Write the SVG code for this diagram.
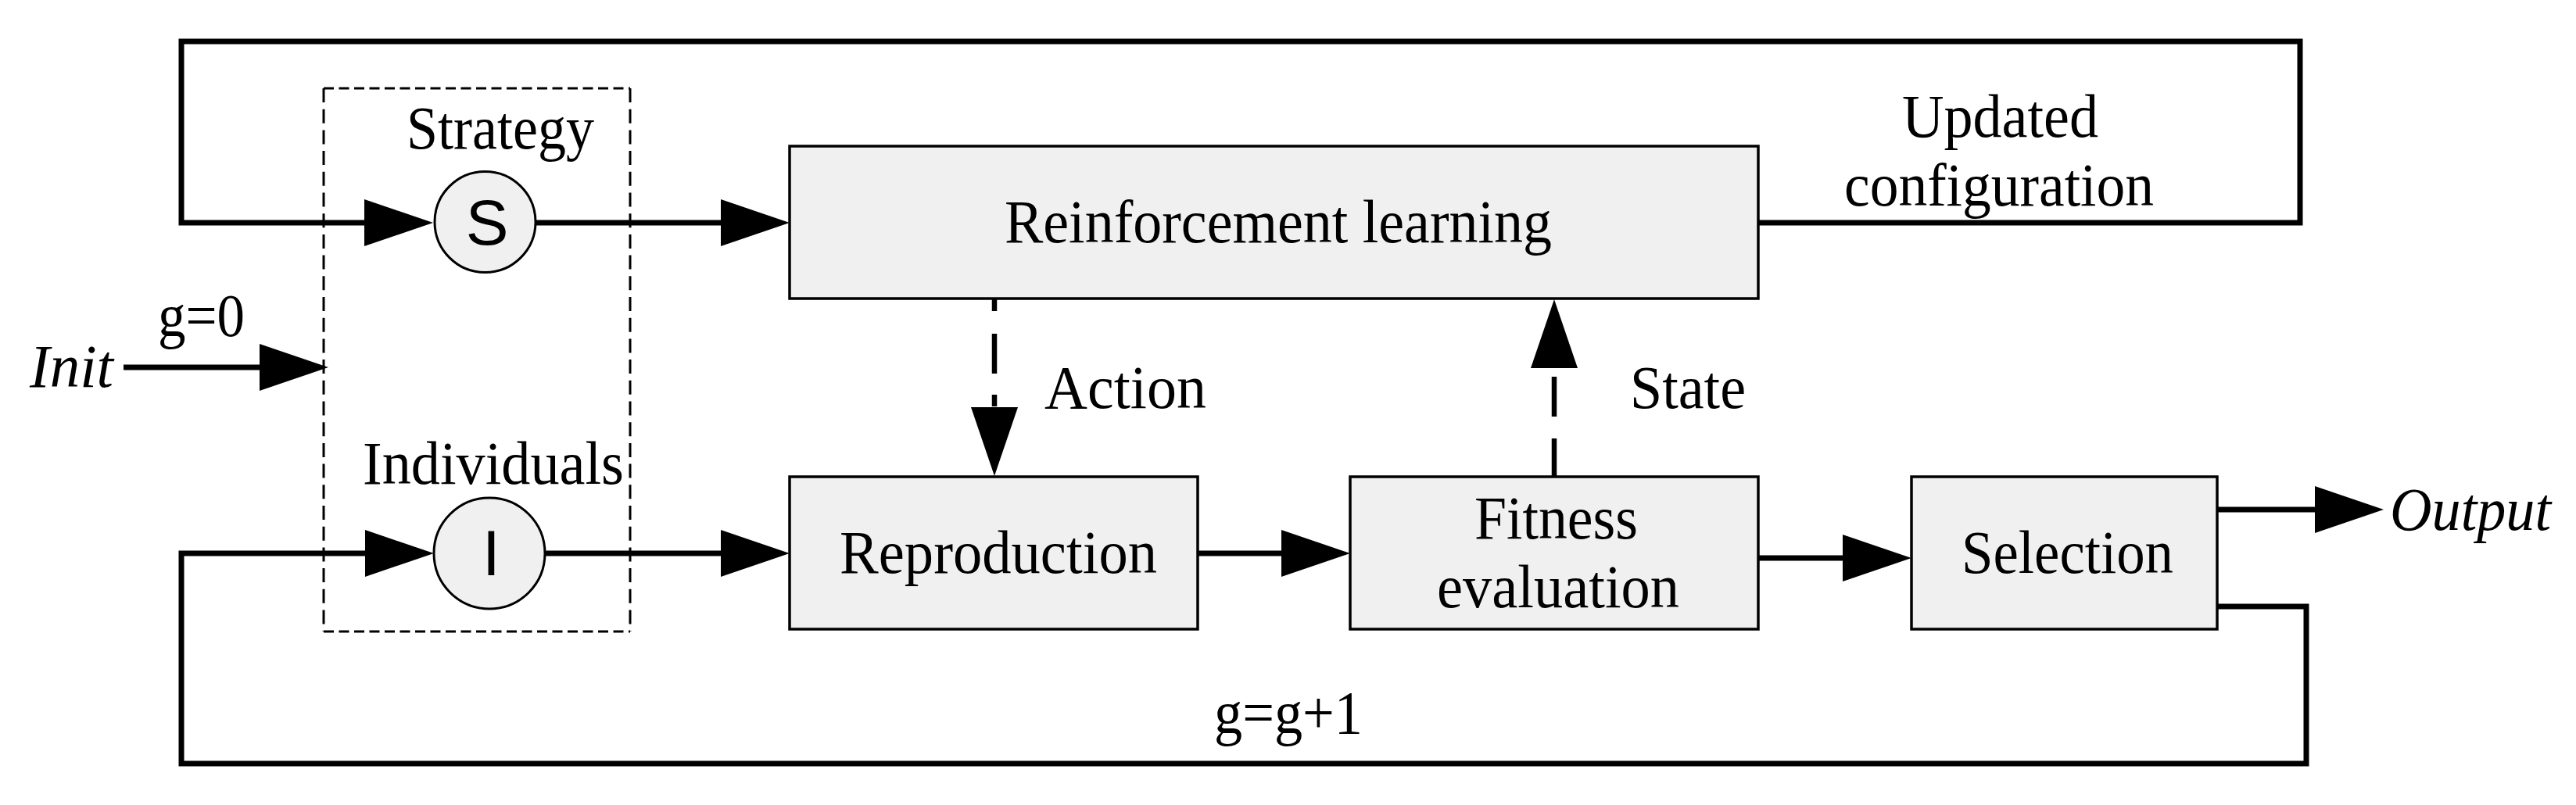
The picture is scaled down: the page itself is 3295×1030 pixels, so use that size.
<svg xmlns="http://www.w3.org/2000/svg" width="3295" height="1030" viewBox="0 0 3295 1030">
<style>
  .bg { fill: #ffffff; }
  .box { fill: #f0f0f0; stroke: #000; stroke-width: 3.5; }
  .node { fill: #f0f0f0; stroke: #000; stroke-width: 3; }
  .frame { fill: none; stroke: #000; stroke-width: 3; }
  .wire { fill: none; stroke: #000; stroke-width: 7; stroke-linejoin: miter; }
  .dwire { fill: none; stroke: #000; stroke-width: 6.5; }
  .t { font-family: "Liberation Serif", "Times New Roman", serif; font-size: 78px; fill: #000; }
  .it { font-style: italic; }
  .sym { font-family: "Liberation Sans", Arial, sans-serif; font-size: 82px; fill: #000; text-anchor: middle; }
</style>
<defs>
  <marker id="arrow" viewBox="0 -30 88 60" markerWidth="88" markerHeight="60" refX="2" refY="0" orient="auto" markerUnits="userSpaceOnUse">
    <path d="M0,-30 L88,0 L0,30 Z" fill="#000"/>
  </marker>
</defs>
<rect class="bg" x="0" y="0" width="3295" height="1030"/>

<g id="connectors">
  <path class="wire" d="M158 470 H334" marker-end="url(#arrow)"/>
  <path class="wire" d="M2249 285 H2942 V53 H232 V285 H468" marker-end="url(#arrow)"/>
  <path class="wire" d="M685 285 H924" marker-end="url(#arrow)"/>
  <path class="wire" d="M697 708 H924" marker-end="url(#arrow)"/>
  <path class="wire" d="M2836 776 H2950 V977 H232 V708 H469" marker-end="url(#arrow)"/>
  <path class="wire" d="M1532 708 H1641" marker-end="url(#arrow)"/>
  <path class="wire" d="M2249 714 H2359" marker-end="url(#arrow)"/>
  <path class="wire" d="M2836 652 H2963" marker-end="url(#arrow)"/>
  <path class="dwire" d="M1272 383 V523" stroke-dasharray="15 29 51 27 15 10" marker-end="url(#arrow)"/>
  <path class="dwire" d="M1988 610 V469" stroke-dasharray="49 28 51 13" marker-end="url(#arrow)"/>
</g>

<g id="labels">
  <text class="t it" x="38" y="495" textLength="107" lengthAdjust="spacingAndGlyphs">Init</text>
  <text class="t" x="202" y="430" textLength="111" lengthAdjust="spacingAndGlyphs">g=0</text>
  <text class="t" x="2433" y="175" textLength="251" lengthAdjust="spacingAndGlyphs">Updated</text>
  <text class="t" x="2359" y="263" textLength="396" lengthAdjust="spacingAndGlyphs">configuration</text>
  <text class="t" x="1336" y="522" textLength="207" lengthAdjust="spacingAndGlyphs">Action</text>
  <text class="t" x="2085" y="522" textLength="148" lengthAdjust="spacingAndGlyphs">State</text>
  <text class="t it" x="3057" y="678" textLength="206" lengthAdjust="spacingAndGlyphs">Output</text>
  <text class="t" x="1553" y="938" textLength="190" lengthAdjust="spacingAndGlyphs">g=g+1</text>
</g>

<g id="init-group">
  <path class="frame" d="M414 113 H806" stroke-dasharray="13 6.5"/>
  <path class="frame" d="M414 808 H806" stroke-dasharray="13 6.5"/>
  <path class="frame" d="M414 113 V808" stroke-dasharray="18 8.7"/>
  <path class="frame" d="M806 113 V808" stroke-dasharray="18 8.7"/>
  <text class="t" x="520" y="190" textLength="240" lengthAdjust="spacingAndGlyphs">Strategy</text>
  <text class="t" x="464" y="619" textLength="334" lengthAdjust="spacingAndGlyphs">Individuals</text>
</g>

<g id="node-strategy">
  <circle class="node" cx="620.5" cy="284" r="64.5"/>
  <text class="sym" x="623" y="313">S</text>
</g>

<g id="node-individuals">
  <circle class="node" cx="626" cy="708" r="71"/>
  <text class="sym" x="628.5" y="736">I</text>
</g>

<g id="node-rl">
  <rect class="box" x="1010" y="187" width="1239" height="195"/>
  <text class="t" x="1285" y="310" textLength="700" lengthAdjust="spacingAndGlyphs">Reinforcement learning</text>
</g>

<g id="node-reproduction">
  <rect class="box" x="1010" y="610" width="522" height="195"/>
  <text class="t" x="1074" y="733" textLength="406" lengthAdjust="spacingAndGlyphs">Reproduction</text>
</g>

<g id="node-fitness">
  <rect class="box" x="1727" y="610" width="522" height="195"/>
  <text class="t" x="1886" y="689" textLength="209" lengthAdjust="spacingAndGlyphs">Fitness</text>
  <text class="t" x="1838" y="777" textLength="310" lengthAdjust="spacingAndGlyphs">evaluation</text>
</g>

<g id="node-selection">
  <rect class="box" x="2445" y="610" width="391" height="195"/>
  <text class="t" x="2509" y="733" textLength="271" lengthAdjust="spacingAndGlyphs">Selection</text>
</g>
</svg>
